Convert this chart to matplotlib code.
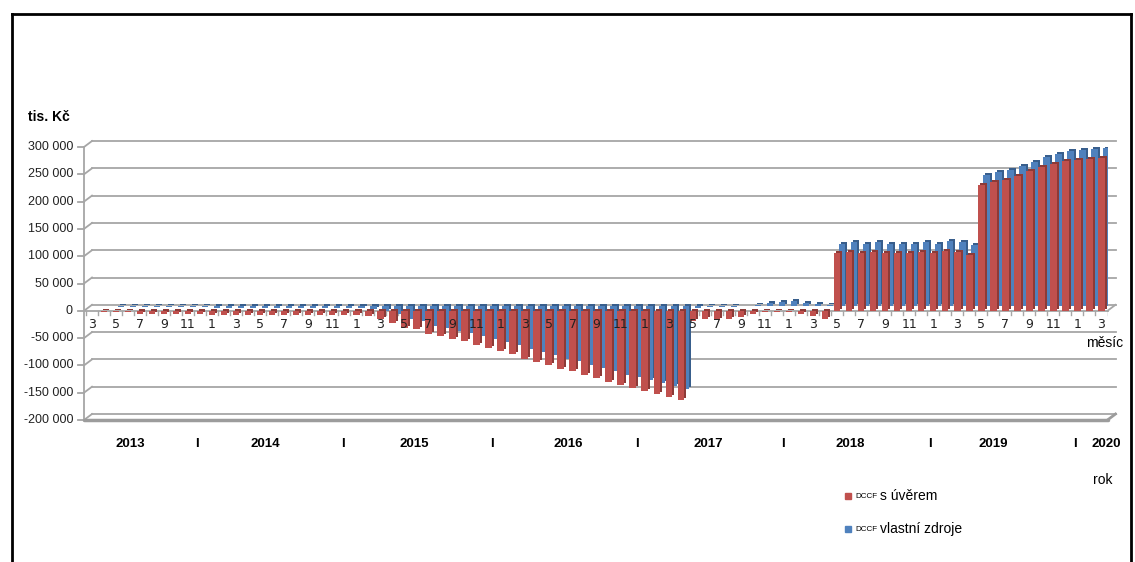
import numpy as np
import matplotlib
matplotlib.use('Agg')
import matplotlib.pyplot as plt
from matplotlib.patches import Rectangle
from matplotlib.lines import Line2D

plt.rcParams['font.family'] = ['Liberation Sans', 'DejaVu Sans']

# Monthly DCCF values in tis. Kč, March 2013 - March 2020
start_year, start_month = 2013, 3
dccf_uver = [
    -1000, -1500, -2000, -2500, -5000, -5500, -6000, -6000, -6500, -6500,
    -7000, -7000, -7500, -7000, -7500, -7500, -8000, -8000, -8000, -8500, -8500, -8000,
    -8500, -9000, -15000, -21600, -31000, -34000, -43000, -46000, -52000, -55500, -62000, -68000,
    -74000, -80000, -87500, -94000, -99000, -106000, -111000, -117000, -123500, -130000, -136000, -142000,
    -147000, -153000, -158000, -163500, -19000, -15000, -17000, -15000, -11000, -6000, -3000, -2000,
    -3000, -5000, -9000, -15000, 105000, 108000, 105000, 108000, 105000, 105000, 105000, 107000,
    105000, 110000, 107000, 103000, 230000, 236000, 239500, 247000, 256000, 264000, 268500, 274500,
    276000, 277500, 279500,
]
dccf_vlastni = [
    -1000, -1000, -1500, -1500, -2000, -2500, -2500, -3000, -3000, -3000,
    -3500, -3500, -3500, -3500, -3500, -4000, -4000, -4000, -4000, -4000, -4000, -4000,
    -4500, -5000, -10000, -15000, -25000, -28000, -37000, -40000, -46000, -49000, -55000, -60000,
    -66000, -72000, -79000, -85000, -90000, -97000, -102000, -108000, -114000, -120000, -126000, -131000,
    -136000, -142000, -146000, -152000, -4000, -3000, -3000, -3000, -1000, 1000, 6000, 7000,
    8000, 5000, 3000, 1000, 113000, 116500, 114000, 116500, 114000, 114000, 114000, 116000,
    114000, 119000, 116000, 112000, 239500, 245500, 248500, 256000, 263500, 272500, 278500, 283000,
    285000, 286500, 289000,
]
years = ['2013', '2014', '2015', '2016', '2017', '2018', '2019', '2020']
y_ticks = list(range(-200000, 300001, 50000))

# month number of every category
months = []
m = start_month
for _ in dccf_uver:
    months.append(m)
    m = 1 if m == 12 else m + 1

RED, RED_DARK = '#C0504D', '#8C3A37'
BLUE, BLUE_DARK = '#4F81BD', '#385E8C'
GRID = '#A6A6A6'

W_PX, H_PX = 1135, 562
ax_left, ax_right, ax_top, ax_bottom = 84, 1107.5, 147, 420
x_min, x_max = -0.65, 84.5
y_min, y_max = -200000, 300000


def fx(px):
    return px / W_PX


def fy(py):
    return 1 - py / H_PX


ux = (ax_right - ax_left) / (x_max - x_min)
uy = (ax_bottom - ax_top) / (y_max - y_min)


def dx(px):
    return px / ux


def dy(px):
    return px / uy


fig = plt.figure(figsize=(W_PX / 100, H_PX / 100), dpi=100)
ax = fig.add_axes([fx(ax_left), fy(ax_bottom),
                   (ax_right - ax_left) / W_PX, (ax_bottom - ax_top) / H_PX])
ax.set_xlim(x_min, x_max)
ax.set_ylim(y_min, y_max)
ax.axis('off')

# 3D-like walls: back gridlines, left wall diagonals, ticks and labels
BX, BY = dx(8), dy(6)
for v in y_ticks:
    ax.plot([x_min + BX, x_max + BX], [v + BY, v + BY], color=GRID, lw=1.3, zorder=1, clip_on=False)
    ax.plot([x_min, x_min + BX], [v, v + BY], color=GRID, lw=1.3, zorder=1, clip_on=False)
    ax.plot([x_min - dx(6), x_min], [v, v], color=GRID, lw=1.3, zorder=1, clip_on=False)
    ax.text(x_min - dx(11), v, f'{v:,}'.replace(',', ' '), ha='right', va='center',
            fontsize=9, color='#222222')
ax.plot([x_min, x_min], [y_min, y_max], color=GRID, lw=1.3, zorder=1, clip_on=False)

# floor
ax.plot([x_min, x_max], [y_min, y_min], color='#9C9C9C', lw=2.5, zorder=1,
        solid_capstyle='round', clip_on=False)
ax.plot([x_max, x_max + BX], [y_min, y_min + BY], color='#9C9C9C', lw=2, zorder=1, clip_on=False)

# category axis plane at zero
ax.plot([x_min, x_max], [0, 0], color=GRID, lw=1.3, zorder=1, clip_on=False)
ax.plot([x_max, x_max + BX], [0, BY], color=GRID, lw=1.3, zorder=1, clip_on=False)
for b in np.arange(len(months) + 1) - 0.5:
    ax.plot([b, b], [0, -dy(4)], color=GRID, lw=1, zorder=1)

# bars: blue row behind, red row in front
x = np.arange(len(months))
w = dx(6.5)
RX, RY = dx(5), dy(5)
SX, SY = dx(2), dy(2)
ax.bar(x + RX + SX, dccf_vlastni, width=w, bottom=RY + SY, color=BLUE_DARK, zorder=2)
ax.bar(x + RX, dccf_vlastni, width=w, bottom=RY, color=BLUE, zorder=3)
ax.bar(x + SX, dccf_uver, width=w, bottom=SY, color=RED_DARK, zorder=4)
ax.bar(x, dccf_uver, width=w, color=RED, zorder=5)

# month labels (odd months)
for i, mon in enumerate(months):
    if mon % 2 == 1:
        ax.text(i, -dy(14), str(mon), ha='center', va='center', fontsize=9,
                family='DejaVu Sans', color='#222222', zorder=10)

fig.text(fx(1105), fy(343), 'měsíc', ha='center', va='center', fontsize=10)

# year row
year_px = [130, 265, 414, 568, 708, 850, 993, 1106]
sep_px = [197, 343, 492, 637, 783, 930, 1075]
for yr, px in zip(years, year_px):
    fig.text(fx(px), fy(444), yr, ha='center', va='center', fontsize=9.5, fontweight='bold')
for px in sep_px:
    fig.text(fx(px), fy(444), 'I', ha='center', va='center', fontsize=9.5, fontweight='bold')
fig.text(fx(1103), fy(480), 'rok', ha='center', va='center', fontsize=10)

fig.text(fx(28), fy(117), 'tis. Kč', ha='left', va='center', fontsize=10, fontweight='bold')

# legend
for py, col, label in [(496, RED, 's úvěrem'), (529, BLUE, 'vlastní zdroje')]:
    fig.add_artist(Rectangle((fx(845), fy(py + 3)), 6 / W_PX, 6 / H_PX,
                             transform=fig.transFigure, color=col))
    fig.text(fx(855), fy(py + 0.5), 'DCCF', ha='left', va='center', fontsize=5.8)
    fig.text(fx(880), fy(py), label, ha='left', va='center', fontsize=10)

# outer frame
for xs, ys in [([12, 12], [14, 562]), ([12, 1131], [14, 14]), ([1131, 1131], [14, 562])]:
    fig.add_artist(Line2D([fx(p) for p in xs], [fy(p) for p in ys],
                          transform=fig.transFigure, color='black', lw=2))

fig.savefig('out.png', dpi=100)
